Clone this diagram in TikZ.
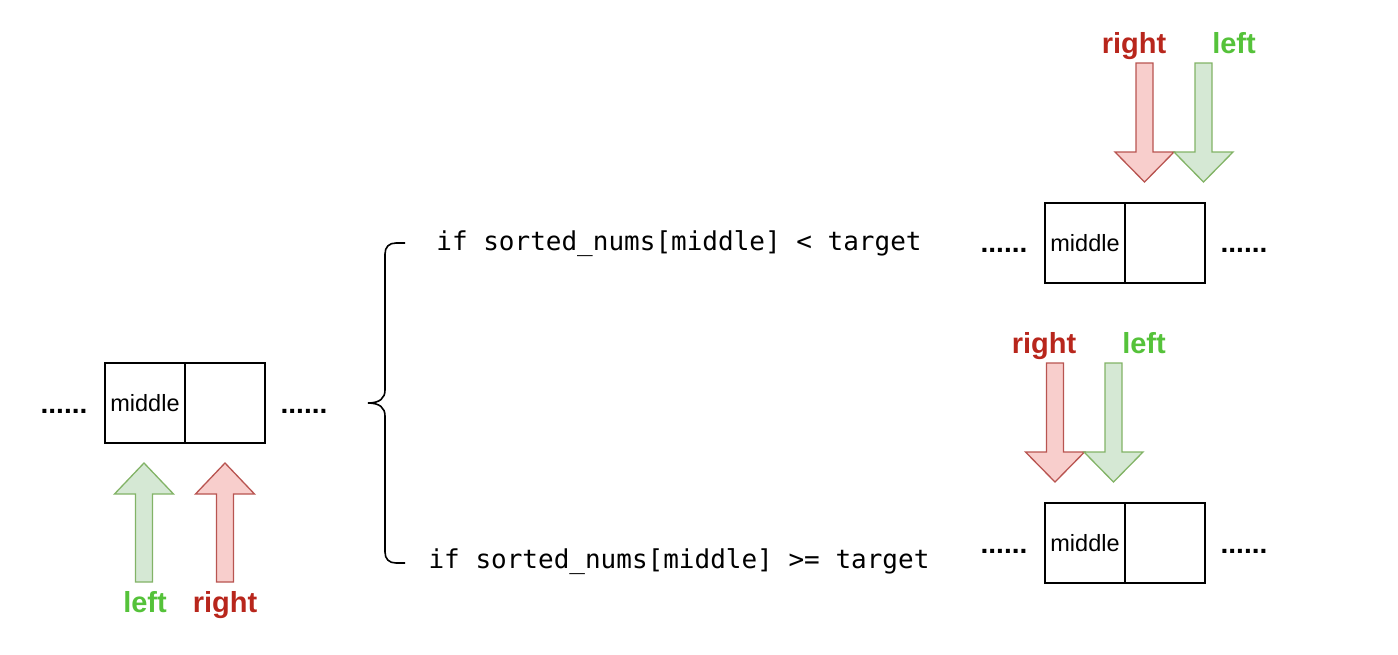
\documentclass[tikz,border=0pt]{standalone}
\usepackage{fontspec}
\setmainfont{Liberation Sans}
\newfontfamily\codefont{DejaVu Sans Mono}

\definecolor{gfill}{HTML}{D5E8D4}
\definecolor{gline}{HTML}{82B366}
\definecolor{rfill}{HTML}{F8CECC}
\definecolor{rline}{HTML}{B85450}
\definecolor{gtext}{HTML}{55C23A}
\definecolor{rtext}{HTML}{B8261C}

\begin{document}
\begin{tikzpicture}[x=1pt,y=-1pt,
  cell/.style={draw,line width=1.6pt,minimum width=80pt,minimum height=80pt,inner sep=0pt,font=\fontsize{23.5}{28}\selectfont},
  dots/.style={anchor=base,inner sep=0pt,font=\bfseries\fontsize{28}{34}\selectfont},
  gname/.style={anchor=base,inner sep=0pt,text=gtext,font=\bfseries\fontsize{29}{34}\selectfont},
  rname/.style={anchor=base,inner sep=0pt,text=rtext,font=\bfseries\fontsize{29}{34}\selectfont},
  garrow/.style={draw=gline,fill=gfill,line width=1.3pt},
  rarrow/.style={draw=rline,fill=rfill,line width=1.3pt},
  code/.style={anchor=base,inner sep=0pt,font=\codefont\fontsize{26}{30}\selectfont}]
\useasboundingbox (0,0) rectangle (1398,654);

% left array
\node[cell] (L1) at (145,403) {middle};
\node[cell] (L2) at (225,403) {};
\node[dots] (D1) at (64,413) {......};
\node[dots] (D2) at (304,413) {......};

\draw[garrow] (135.5,582) -- ++(0,-88) -- ++(-21,0) -- ++(29.5,-31) -- ++(29.5,31) -- ++(-21,0) -- ++(0,88) -- cycle;
\draw[rarrow] (216.5,582) -- ++(0,-88) -- ++(-21,0) -- ++(29.5,-31) -- ++(29.5,31) -- ++(-21,0) -- ++(0,88) -- cycle;
\node[gname] (g1) at (145,612) {left};
\node[rname] (r1) at (225,612) {right};

% brace
\draw[line width=1.6pt] (405,243) -- (396,243) .. controls (389,243) and (385,247) .. (385,254) -- (385,390) .. controls (385,398) and (380,403) .. (368,403) .. controls (380,403) and (385,408) .. (385,416) -- (385,552) .. controls (385,559) and (389,563) .. (396,563) -- (405,563);

\node[code] (c1) at (679,250) {if sorted\_nums[middle] < target};
\node[code] (c2) at (679,568) {if sorted\_nums[middle] >= target};

% top right array
\node[cell] (T1) at (1085,243) {middle};
\node[cell] (T2) at (1165,243) {};
\node[dots] (D3) at (1004,252) {......};
\node[dots] (D4) at (1244,252) {......};

\draw[rarrow] (1136,63) -- ++(0,89) -- ++(-21,0) -- ++(29.5,30) -- ++(29.5,-30) -- ++(-21,0) -- ++(0,-89) -- cycle;
\draw[garrow] (1195,63) -- ++(0,89) -- ++(-21,0) -- ++(29.5,30) -- ++(29.5,-30) -- ++(-21,0) -- ++(0,-89) -- cycle;
\node[rname] (r2) at (1134,53) {right};
\node[gname] (g2) at (1234,53) {left};

% bottom right array
\node[cell] (B1) at (1085,543) {middle};
\node[cell] (B2) at (1165,543) {};
\node[dots] (D5) at (1004,553) {......};
\node[dots] (D6) at (1244,553) {......};

\draw[rarrow] (1046.5,363) -- ++(0,89) -- ++(-21,0) -- ++(29.5,30) -- ++(29.5,-30) -- ++(-21,0) -- ++(0,-89) -- cycle;
\draw[garrow] (1105,363) -- ++(0,89) -- ++(-21,0) -- ++(29.5,30) -- ++(29.5,-30) -- ++(-21,0) -- ++(0,-89) -- cycle;
\node[rname] (r3) at (1044,353) {right};
\node[gname] (g3) at (1144,353) {left};
\end{tikzpicture}
\end{document}
